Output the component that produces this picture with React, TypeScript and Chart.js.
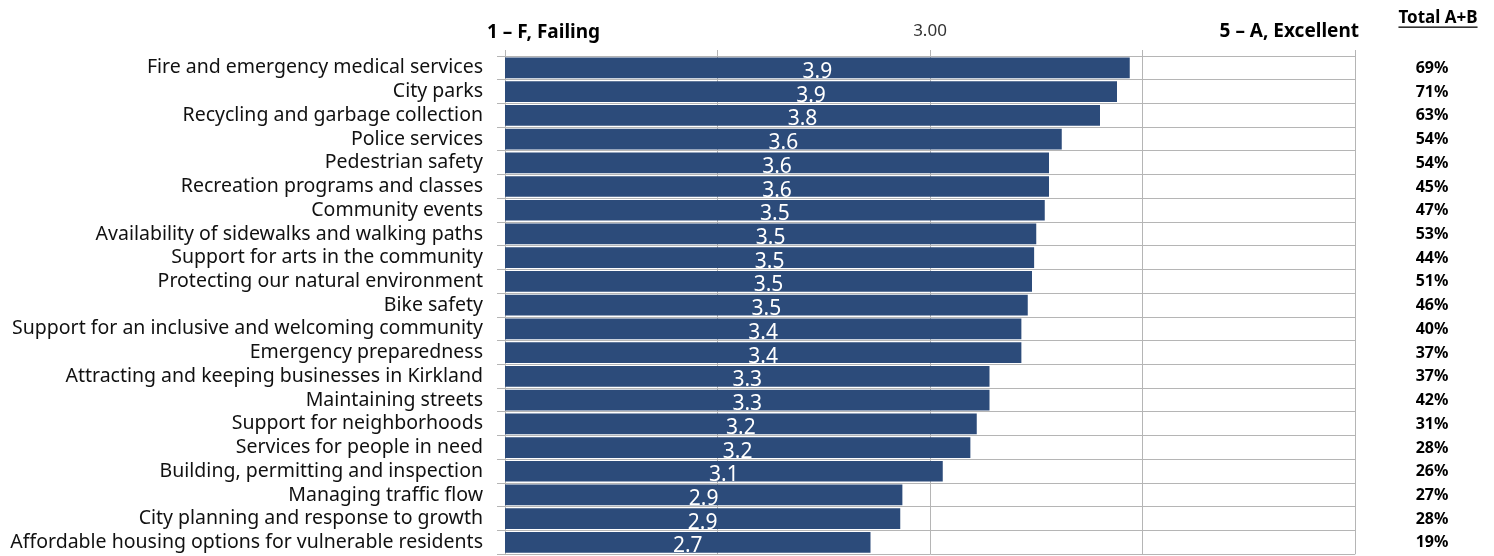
import React, { useEffect, useRef } from 'react';
import { Chart, registerables } from 'chart.js';

Chart.register(...registerables);

const categories = [
  'Fire and emergency medical services',
  'City parks',
  'Recycling and garbage collection',
  'Police services',
  'Pedestrian safety',
  'Recreation programs and classes',
  'Community events',
  'Availability of sidewalks and walking paths',
  'Support for arts in the community',
  'Protecting our natural environment',
  'Bike safety',
  'Support for an inclusive and welcoming community',
  'Emergency preparedness',
  'Attracting and keeping businesses in Kirkland',
  'Maintaining streets',
  'Support for neighborhoods',
  'Services for people in need',
  'Building, permitting and inspection',
  'Managing traffic flow',
  'City planning and response to growth',
  'Affordable housing options for vulnerable residents',
];

const scores = [3.94, 3.88, 3.8, 3.62, 3.56, 3.56, 3.54, 3.5, 3.49, 3.48, 3.46, 3.43, 3.43, 3.28, 3.28, 3.22, 3.19, 3.06, 2.87, 2.86, 2.72];

const totalAB = [69, 71, 63, 54, 54, 45, 47, 53, 44, 51, 46, 40, 37, 37, 42, 31, 28, 26, 27, 28, 19];

const axisLeftLabel = '1 – F, Failing';
const axisMidLabel = '3.00';
const axisRightLabel = '5 – A, Excellent';
const totalHeader = 'Total A+B';

const FONT = '"Noto Sans", sans-serif';
const GRID = '#b5b5b5';

const overlayPlugin = {
  id: 'overlay',
  afterDatasetsDraw(chart: any) {
    const ctx = chart.ctx;
    const xs = chart.scales.x;
    const meta = chart.getDatasetMeta(0);
    ctx.save();
    // value labels on bars
    ctx.fillStyle = '#ffffff';
    ctx.font = `21px ${FONT}`;
    ctx.textAlign = 'center';
    ctx.textBaseline = 'alphabetic';
    meta.data.forEach((bar: any, i: number) => {
      const cx = (xs.left + bar.x) / 2;
      ctx.fillText(scores[i].toFixed(1), cx, bar.y + 10);
    });
    // Total A+B column
    ctx.fillStyle = '#000000';
    ctx.font = `bold 16px ${FONT}`;
    meta.data.forEach((bar: any, i: number) => {
      ctx.fillText(`${totalAB[i]}%`, 1432, bar.y + 5);
    });
    // header
    ctx.font = `bold 17px ${FONT}`;
    ctx.fillText(totalHeader, 1438, 23);
    const w = ctx.measureText(totalHeader).width;
    ctx.fillRect(1438 - w / 2, 26.5, w, 1.3);

    ctx.font = `bold 19px ${FONT}`;
    ctx.textAlign = 'left';
    ctx.fillText(axisLeftLabel, xs.left - 18, 38);
    ctx.textAlign = 'right';
    ctx.fillText(axisRightLabel, xs.right + 4, 37);
    ctx.font = `17px ${FONT}`;
    ctx.fillStyle = '#333333';
    ctx.textAlign = 'center';
    ctx.fillText(axisMidLabel, xs.getPixelForValue(3), 36);
    ctx.restore();
  },
};

export default function App() {
  const ref = useRef<HTMLCanvasElement | null>(null);
  useEffect(() => {
    if (!ref.current) return;
    const chart = new Chart(ref.current, {
      type: 'bar',
      data: {
        labels: categories,
        datasets: [
          {
            data: scores,
            backgroundColor: '#2c4b7a',
            barPercentage: 0.9,
            categoryPercentage: 0.97,
          },
        ],
      },
      options: {
        indexAxis: 'y',
        responsive: false,
        animation: false,
        layout: { padding: { top: 50, right: 139, bottom: 20, left: 0 } },
        plugins: { legend: { display: false }, tooltip: { enabled: false } },
        scales: {
          x: {
            position: 'top',
            min: 1,
            max: 5,
            ticks: { display: false, stepSize: 1 },
            grid: { color: GRID, drawTicks: true, tickLength: 6, lineWidth: 1 },
            border: { display: true, color: GRID },
            afterFit: (s: any) => {
              s.height = 6;
            },
          },
          y: {
            ticks: {
              color: '#111111',
              font: { family: FONT, size: 19.5 },
              padding: 14,
              autoSkip: false,
            },
            grid: { color: GRID, drawTicks: true, tickLength: 8, offset: true },
            border: { display: true, color: GRID },
            afterFit: (s: any) => {
              s.width = 505;
            },
          },
        },
      },
      plugins: [overlayPlugin],
    });
    return () => chart.destroy();
  }, []);
  return (
    <div
      style={{
        position: 'fixed',
        left: 0,
        top: 0,
        width: 1494,
        height: 556,
        overflow: 'hidden',
        background: '#ffffff',
      }}
    >
      <canvas ref={ref} width={1494} height={580} style={{ width: 1494, height: 580, display: 'block' }} />
    </div>
  );
}
